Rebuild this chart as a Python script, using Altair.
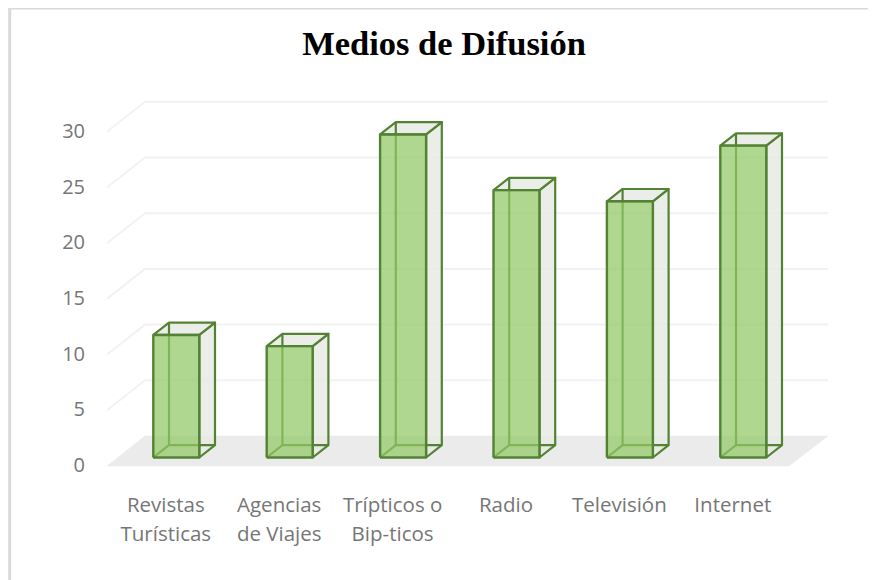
import altair as alt
import pandas as pd

categories = ["Revistas|Turísticas", "Agencias|de Viajes", "Trípticos o|Bip-ticos", "Radio", "Televisión", "Internet"]
values = [11, 10, 29, 24, 23, 28]
y_ticks = [0, 5, 10, 15, 20, 25, 30]
title_text = "Medios de Difusión"

W, H = 860, 572
X0, DX = 176.3 - 8, 113.4
Y0, DY = 457.5 - 8, 11.14
HALF = 23 / DX
DEPTH_X = 15.7 / DX
DEPTH_Y = 12.3 / DY


def poly(rows, name, pts):
    for i, (x, y) in enumerate(pts):
        rows.append({"id": name, "seq": i, "x": x, "y": y})


front, sides, inner, grid, floor = [], [], [], [], []
for i, v in enumerate(values):
    x0, x1 = i - HALF, i + HALF
    d, e = DEPTH_X, DEPTH_Y
    poly(sides, f"r{i}", [(x1, 0), (x1 + d, e), (x1 + d, v + e), (x1, v), (x1, 0)])
    poly(sides, f"t{i}", [(x0, v), (x0 + d, v + e), (x1 + d, v + e), (x1, v), (x0, v)])
    poly(inner, f"b{i}", [(x0, 0), (x0 + d, e), (x1 + d, e)])
    poly(inner, f"l{i}", [(x0 + d, e), (x0 + d, v + e)])
    poly(front, f"f{i}", [(x0, 0), (x1, 0), (x1, v), (x0, v), (x0, 0)])

LX_F, LX_B, RX_B, RX_F = -0.611, -0.276, 5.747, 5.403
FY, BY = -0.76, 1.93
for k in y_ticks[1:]:
    poly(grid, f"g{k}", [(LX_F, k + FY), (LX_B, k + BY), (RX_B, k + BY)])
poly(floor, "floor", [(LX_F, FY), (LX_B, BY), (RX_B, BY), (RX_F, FY), (LX_F, FY)])

x_scale = alt.Scale(domain=[0, 5], range=[X0, X0 + 5 * DX], nice=False, zero=False)
y_scale = alt.Scale(domain=[0, 30], range=[Y0, Y0 - 30 * DY], nice=False, zero=False)

label_expr = "split(" + str(categories) + "[datum.value], '|')"
x_axis = alt.Axis(
    values=list(range(6)), labelExpr=label_expr, title=None, domain=False, ticks=False, grid=False,
    orient="bottom", offset=-(H - (495 - 8)), labelPadding=0, labelOffset=-11,
    labelFont="Open Sans", labelFontSize=20.5, labelColor="#767676", labelLineHeight=29,
    labelOverlap=False, labelBound=False, labelFlush=False, labelAngle=0, labelBaseline="top",
)
y_axis = alt.Axis(
    values=y_ticks, title=None, domain=False, ticks=False, grid=False,
    orient="left", offset=-76.5, labelPadding=0, labelOffset=8,
    labelFont="Open Sans", labelFontSize=20, labelColor="#767676",
    labelOverlap=False, labelBound=False, labelFlush=False, labelAlign="right",
)


def shapes(rows, **mark):
    return alt.Chart(pd.DataFrame(rows)).mark_line(**mark, strokeJoin="round", interpolate="linear").encode(
        x=alt.X("x:Q", scale=x_scale, axis=x_axis),
        y=alt.Y("y:Q", scale=y_scale, axis=y_axis),
        detail="id:N",
        order="seq:Q",
    )


frame_data = pd.DataFrame({"k": [0]})
frame_top = alt.Chart(frame_data).mark_rule(color="#d9d9d9", strokeWidth=2).encode(
    x=alt.value(0), x2=alt.value(W), y=alt.value(0.5))
frame_left = alt.Chart(frame_data).mark_rule(color="#d9d9d9", strokeWidth=3).encode(
    x=alt.value(1.7), y=alt.value(0), y2=alt.value(H))
title = alt.Chart(pd.DataFrame({"t": [title_text]})).mark_text(
    font="Liberation Serif", fontSize=34.5, fontWeight="bold", color="#000000",
    align="center", baseline="alphabetic",
).encode(text="t:N", x=alt.value(436), y=alt.value(47))

chart = alt.layer(
    frame_top,
    frame_left,
    title,
    shapes(grid, stroke="#f2f2f2", strokeWidth=2),
    shapes(floor, fill="#ebebeb", stroke="#ebebeb", strokeWidth=0.5),
    shapes(sides, fill="#e7ebe4", fillOpacity=0.85, stroke="#548235", strokeWidth=2.2),
    shapes(inner, stroke="#548235", strokeWidth=2.2),
    shapes(front, fill="#92c864", fillOpacity=0.72, stroke="#548235", strokeWidth=2.4),
).properties(
    width=W,
    height=H,
    padding=0,
    autosize=alt.AutoSizeParams(type="none"),
).configure_view(stroke=None)

chart.save("out.html", embed_options={"renderer": "svg", "actions": False})
